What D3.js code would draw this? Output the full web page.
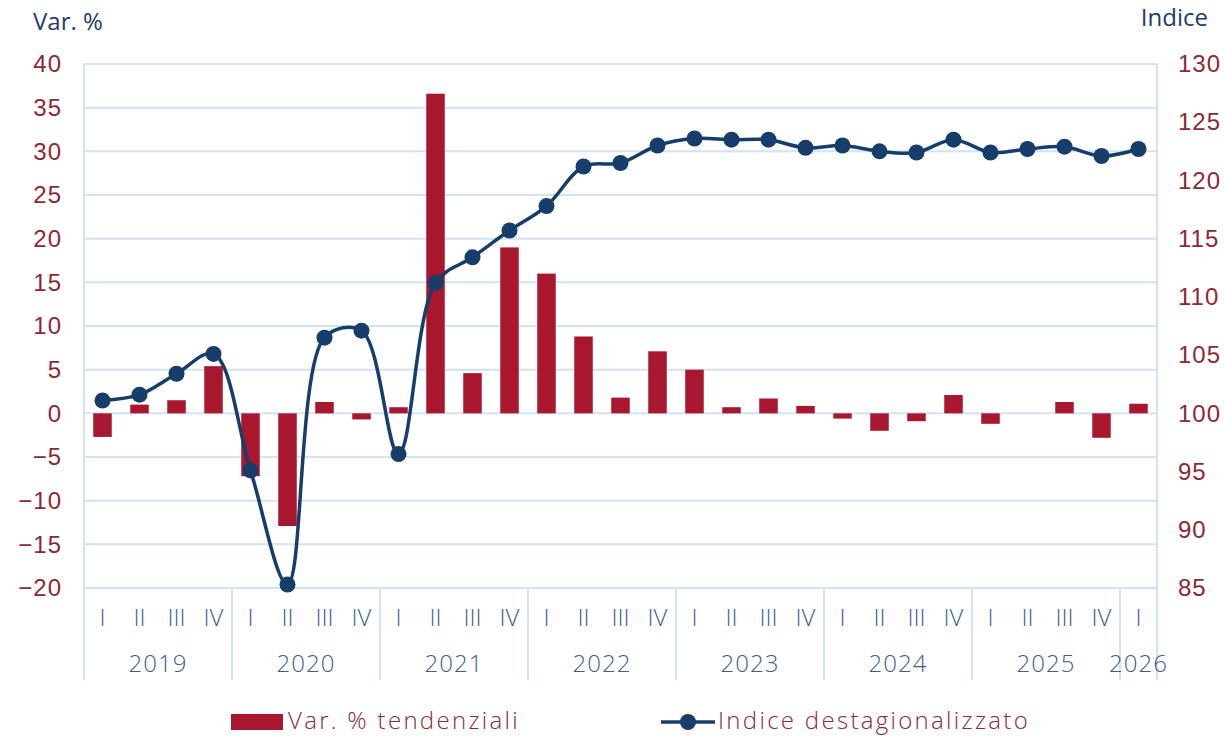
<!DOCTYPE html>
<html>
<head>
<meta charset="utf-8">
<script src="https://cdn.jsdelivr.net/npm/d3@7"></script>
<style>
  body { margin: 0; background: #fff; }
  svg { font-family: "Open Sans", "Noto Sans", sans-serif; font-weight: 300; }
</style>
</head>
<body>
<svg width="1224" height="737"></svg>
<script>
// quarters and years
const quarters = ["I","II","III","IV","I","II","III","IV","I","II","III","IV","I","II","III","IV",
                  "I","II","III","IV","I","II","III","IV","I","II","III","IV","I"];
const years = ["2019","2020","2021","2022","2023","2024","2025","2026"];
const yearCounts = [4,4,4,4,4,4,4,1];

// var. % tendenziali (bars, left axis)
const varPct = [-2.7, 1.0, 1.5, 5.4, -7.2, -12.9, 1.3, -0.7, 0.7, 36.6, 4.6, 19.0,
                16.0, 8.8, 1.8, 7.1, 5.0, 0.7, 1.7, 0.85, -0.6, -2.0, -0.9, 2.1,
                -1.2, 0, 1.3, -2.8, 1.1];

// indice destagionalizzato (line, right axis)
const indice = [101.1, 101.6, 103.4, 105.1, 95.1, 85.3, 106.5, 107.1, 96.5, 111.2, 113.4, 115.7,
                117.8, 121.2, 121.5, 123.0, 123.6, 123.5, 123.5, 122.8, 123.0, 122.5, 122.4, 123.5,
                122.4, 122.7, 122.9, 122.1, 122.7];

const leftTicks = [-20,-15,-10,-5,0,5,10,15,20,25,30,35,40];
const rightTicks = [85,90,95,100,105,110,115,120,125,130];

const barColor = "#A8172D";
const lineColor = "#173D6B";
const gridColor = "#D3E2F4";
const labelRed = "#8B2A36";
const labelBlue = "#3D5D8A";

const plotLeft = 84, plotRight = 1157, plotTop = 64, plotBottom = 588, catBottom = 680;

const svg = d3.select("svg");

const x = d3.scaleBand()
  .domain(d3.range(quarters.length))
  .range([plotLeft, plotRight])
  .paddingInner(0.5)
  .paddingOuter(0.25);

const yL = d3.scaleLinear().domain([-20, 40]).range([plotBottom, plotTop]);
const yR = d3.scaleLinear().domain([85, 130]).range([plotBottom, plotTop]);

// grid lines
svg.append("g").selectAll("line").data(leftTicks).enter().append("line")
  .attr("x1", plotLeft).attr("x2", plotRight)
  .attr("y1", d => yL(d)).attr("y2", d => yL(d))
  .attr("stroke", gridColor).attr("stroke-width", 2);

// vertical frame lines + year separators
const step = x.step();
let seps = [plotLeft];
let acc = 0;
yearCounts.forEach(c => { acc += c; seps.push(plotLeft + acc * step); });
svg.append("g").selectAll("line").data(seps).enter().append("line")
  .attr("x1", d => d).attr("x2", d => d)
  .attr("y1", (d, i) => (i === 0 || i === seps.length - 1) ? plotTop : plotBottom)
  .attr("y2", catBottom)
  .attr("stroke", gridColor).attr("stroke-width", 2);

// left axis
const leftAxis = d3.axisLeft(yL).tickValues(leftTicks).tickSize(0).tickPadding(22);
const gL = svg.append("g").attr("transform", `translate(${plotLeft},0)`).call(leftAxis);
gL.select(".domain").remove();
gL.selectAll("text").attr("fill", labelRed).style("font-size", "24px").style("font-family", "inherit")
  .style("letter-spacing", "1px");

// right axis
const rightAxis = d3.axisRight(yR).tickValues(rightTicks).tickSize(0).tickPadding(21);
const gR = svg.append("g").attr("transform", `translate(${plotRight},0)`).call(rightAxis);
gR.select(".domain").remove();
gR.selectAll("text").attr("fill", labelRed).style("font-size", "24px").style("font-family", "inherit")
  .style("letter-spacing", "1px");

// bars
svg.append("g").selectAll("rect").data(varPct).enter().append("rect")
  .attr("x", (d, i) => x(i))
  .attr("width", x.bandwidth())
  .attr("y", d => yL(Math.max(0, d)))
  .attr("height", d => Math.abs(yL(d) - yL(0)))
  .attr("fill", barColor);

// line
const line = d3.line()
  .x((d, i) => x(i) + x.bandwidth() / 2)
  .y(d => yR(d))
  .curve(d3.curveCatmullRom.alpha(0.5));

svg.append("path").datum(indice)
  .attr("d", line)
  .attr("fill", "none")
  .attr("stroke", lineColor)
  .attr("stroke-width", 3.5);

svg.append("g").selectAll("circle").data(indice).enter().append("circle")
  .attr("cx", (d, i) => x(i) + x.bandwidth() / 2)
  .attr("cy", d => yR(d))
  .attr("r", 8)
  .attr("fill", lineColor);

// category labels
svg.append("g").selectAll("text").data(quarters).enter().append("text")
  .attr("x", (d, i) => x(i) + x.bandwidth() / 2)
  .attr("y", 626)
  .attr("text-anchor", "middle")
  .attr("fill", labelBlue)
  .style("font-size", "24px")
  .text(d => d);

svg.append("g").selectAll("text").data(years).enter().append("text")
  .attr("x", (d, i) => (seps[i] + seps[i + 1]) / 2)
  .attr("y", 672)
  .attr("text-anchor", "middle")
  .attr("fill", labelBlue)
  .style("font-size", "24px")
  .style("letter-spacing", "1px")
  .text(d => d);

// axis titles
svg.append("text").attr("x", 33).attr("y", 30)
  .attr("fill", "#1B3D6C").style("font-size", "24px").style("font-weight", 400).text("Var. %");
svg.append("text").attr("x", 1208).attr("y", 26).attr("text-anchor", "end")
  .attr("fill", "#1B3D6C").style("font-size", "24px").style("font-weight", 400).text("Indice");

// legend
const lg = svg.append("g");
lg.append("rect").attr("x", 231).attr("y", 714).attr("width", 52).attr("height", 16).attr("fill", barColor);
lg.append("text").attr("x", 288).attr("y", 729).attr("fill", labelRed)
  .style("font-size", "24px").style("letter-spacing", "2.3px").text("Var. % tendenziali");
lg.append("line").attr("x1", 661).attr("x2", 715).attr("y1", 722).attr("y2", 722)
  .attr("stroke", lineColor).attr("stroke-width", 3.5);
lg.append("circle").attr("cx", 688).attr("cy", 722).attr("r", 8).attr("fill", lineColor);
lg.append("text").attr("x", 718).attr("y", 729).attr("fill", labelRed)
  .style("font-size", "24px").style("letter-spacing", "2.3px").text("Indice destagionalizzato");
</script>
</body>
</html>
